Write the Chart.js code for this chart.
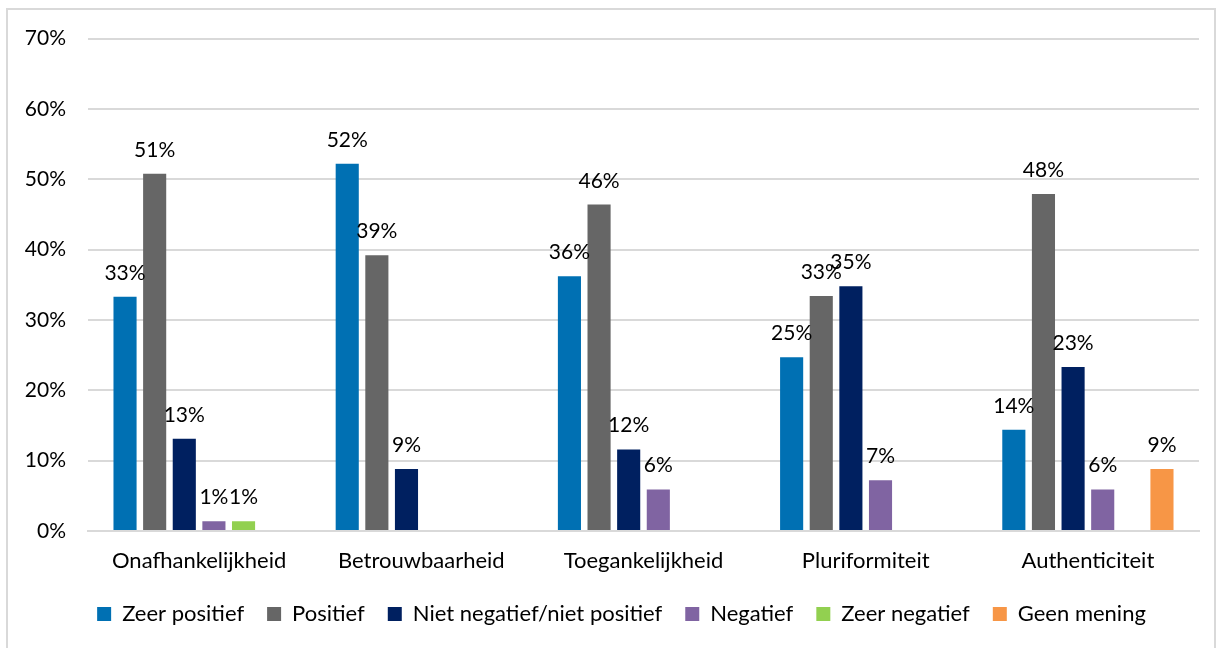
<!DOCTYPE html>
<html>
<head>
<meta charset="utf-8">
<script src="https://cdn.jsdelivr.net/npm/chart.js@4.4.1/dist/chart.umd.min.js"></script>
<style>
  body { margin: 0; background: #fff; }
  #frame { position: absolute; left: 6px; top: 8px; width: 1210px; height: 650px; border: 2px solid #d9d9d9; box-sizing: border-box; }
  canvas { position: absolute; left: 0; top: -6px; }
</style>
</head>
<body>
<div id="frame"><canvas id="chart" width="1206" height="646"></canvas></div>
<script>
const labels = ['Onafhankelijkheid', 'Betrouwbaarheid', 'Toegankelijkheid', 'Pluriformiteit', 'Authenticiteit'];
const zeerPositief = [33.3, 52.2, 36.2, 24.7, 14.4];
const positief = [50.8, 39.2, 46.4, 33.4, 47.9];
const nietNegatief = [13.1, 8.8, 11.6, 34.8, 23.3];
const negatief = [1.4, 0, 5.9, 7.2, 5.9];
const zeerNegatief = [1.4, 0, 0, 0, 0];
const geenMening = [0, 0, 0, 0, 8.8];
const yTicks = [0, 10, 20, 30, 40, 50, 60, 70];

const font = 'Lato';

// value labels above the bars (zero values get no label)
const barLabels = {
    id: 'barLabels',
    afterLayout(chart) {
        // legend sits a bit right of the canvas centre in the original
        chart.legend.left += 36;
    },
    afterDatasetsDraw(chart) {
        const ctx = chart.ctx;
        ctx.save();
        ctx.font = '21px ' + font;
        ctx.fillStyle = '#000';
        ctx.textAlign = 'center';
        ctx.textBaseline = 'alphabetic';
        chart.data.datasets.forEach((ds, i) => {
            const meta = chart.getDatasetMeta(i);
            meta.data.forEach((bar, j) => {
                const v = ds.data[j];
                if (!v) return;
                ctx.fillText(Math.round(v) + '%', bar.x, bar.y - 17);
            });
        });
        ctx.restore();
    }
};

function series(label, data, color) {
    return {
        label,
        data,
        backgroundColor: color,
        borderWidth: 0,
        categoryPercentage: 0.8,
        barPercentage: 0.78
    };
}

new Chart(document.getElementById('chart').getContext('2d'), {
    type: 'bar',
    data: {
        labels,
        datasets: [
            series('Zeer positief', zeerPositief, '#0070B3'),
            series('Positief', positief, '#666666'),
            series('Niet negatief/niet positief', nietNegatief, '#002060'),
            series('Negatief', negatief, '#8064A2'),
            series('Zeer negatief', zeerNegatief, '#92D050'),
            series('Geen mening', geenMening, '#F79646')
        ]
    },
    options: {
        responsive: false,
        animation: false,
        layout: {
            padding: { left: 0, right: 15, top: 12, bottom: 15 }
        },
        plugins: {
            legend: {
                position: 'bottom',
                labels: {
                    font: { family: font, size: 22 },
                    color: '#000',
                    boxWidth: 14,
                    boxHeight: 14,
                    padding: 23
                }
            },
            tooltip: { enabled: false }
        },
        scales: {
            x: {
                grid: { display: false },
                border: { color: '#d9d9d9', width: 2 },
                afterFit(axis) {
                    axis.height = 49;
                },
                ticks: {
                    font: { family: font, size: 22 },
                    color: '#000',
                    padding: 9
                }
            },
            y: {
                min: 0,
                max: 70,
                afterBuildTicks(axis) {
                    axis.ticks = yTicks.map(v => ({ value: v }));
                },
                afterFit(axis) {
                    axis.width = 80;
                },
                grid: { color: '#d9d9d9', lineWidth: 2, drawTicks: false },
                border: { display: false },
                ticks: {
                    font: { family: font, size: 21 },
                    color: '#000',
                    padding: 22,
                    callback: v => v + '%'
                }
            }
        }
    },
    plugins: [barLabels]
});
</script>
</body>
</html>
